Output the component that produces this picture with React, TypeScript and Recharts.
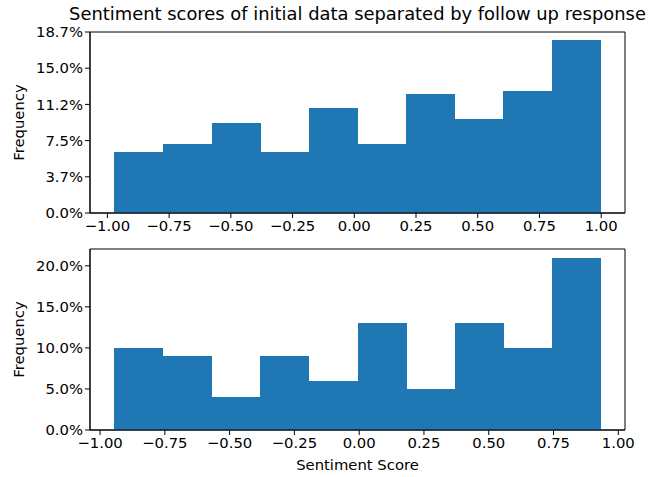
import React from 'react';
import { BarChart, Bar, XAxis, YAxis, ReferenceArea } from 'recharts';

const TITLE = 'Sentiment scores of initial data separated by follow up response';
const BLUE = '#1f77b4';
const FONT = '"DejaVu Sans", sans-serif';

// top panel: bin edges and % frequency per bin
const topEdges = [-0.972, -0.775, -0.578, -0.381, -0.184, 0.013, 0.210, 0.407, 0.604, 0.801, 0.998];
const topFreq = [6.3, 7.1, 9.3, 6.3, 10.85, 7.1, 12.3, 9.7, 12.6, 17.85];
const topYTicks = [0, 3.74, 7.48, 11.22, 14.96, 18.7];

// bottom panel
const botEdges = [-0.945, -0.757, -0.569, -0.382, -0.194, -0.006, 0.181, 0.369, 0.556, 0.744, 0.932];
const botFreq = [10, 9, 4, 9, 6, 13, 5, 13, 10, 21];
const botYTicks = [0, 5, 10, 15, 20];

const xTicks = [-1, -0.75, -0.5, -0.25, 0, 0.25, 0.5, 0.75, 1];

const fmtX = (v: number) => v.toFixed(2).replace('-', '\u2212');
const fmtY = (v: number) => v.toFixed(1) + '%';

const toBins = (edges: number[], freq: number[]) =>
  freq.map((f, i) => ({ x: (edges[i] + edges[i + 1]) / 2, v: f }));

// matplotlib-like 5% margins
const padDomain = (edges: number[]): [number, number] => {
  const lo = edges[0];
  const hi = edges[edges.length - 1];
  const m = (hi - lo) * 0.05;
  return [lo - m, hi + m];
};

const tickStyle = { fill: '#000', fontSize: 14.8, fontFamily: FONT };
const labelStyle = { fill: '#000', fontSize: 14.8, fontFamily: FONT, textAnchor: 'middle' as const };

interface PanelProps {
  edges: number[];
  freq: number[];
  yTicks: number[];
  yMax: number;
  height: number;
  margin: { top: number; right: number; bottom: number; left: number };
  xAxisHeight: number;
  xLabel?: string;
}

const Panel: React.FC<PanelProps> = ({ edges, freq, yTicks, yMax, height, margin, xAxisHeight, xLabel }) => {
  const data = toBins(edges, freq);
  const xDomain = padDomain(edges);
  return (
    <BarChart width={660} height={height} data={data} margin={margin} barCategoryGap={0} barGap={0}>
      <XAxis
        dataKey="x"
        type="number"
        domain={xDomain}
        allowDataOverflow
        ticks={xTicks}
        tickFormatter={fmtX}
        tick={tickStyle}
        tickSize={5}
        tickLine={{ stroke: '#000' }}
        axisLine={{ stroke: '#000' }}
        height={xAxisHeight}
        interval={0}
        label={xLabel ? { value: xLabel, position: 'insideBottom', offset: 5, style: labelStyle } : undefined}
      />
      <YAxis
        type="number"
        domain={[0, yMax]}
        allowDataOverflow
        ticks={yTicks}
        tickFormatter={fmtY}
        tick={tickStyle}
        tickSize={5}
        tickLine={{ stroke: '#000' }}
        axisLine={{ stroke: '#000' }}
        width={90}
        interval={0}
        label={{ value: 'Frequency', angle: -90, position: 'insideLeft', offset: 19, style: labelStyle }}
      />
      <Bar dataKey="v" fill={BLUE} style={{ shapeRendering: 'crispEdges' }} isAnimationActive={false} />
      <ReferenceArea
        x1={xDomain[0]}
        x2={xDomain[1]}
        y1={0}
        y2={yMax}
        fill="none"
        fillOpacity={0}
        stroke="#000"
        strokeWidth={1}
        ifOverflow="visible"
      />
    </BarChart>
  );
};

export default function App() {
  return (
    <div style={{ position: 'absolute', left: 0, top: 0, width: 660, height: 477, background: '#fff', fontFamily: FONT, overflow: 'hidden' }}>
      <div
        style={{
          position: 'absolute',
          left: 357.5,
          top: 3,
          transform: 'translateX(-50%)',
          fontSize: 17.9,
          lineHeight: '22px',
          color: '#000',
          whiteSpace: 'nowrap',
        }}
      >
        {TITLE}
      </div>
      <div style={{ position: 'absolute', left: 0, top: 0 }}>
        <Panel
          edges={topEdges}
          freq={topFreq}
          yTicks={topYTicks}
          yMax={18.7}
          height={240}
          margin={{ top: 32, right: 35, bottom: 2, left: 0 }}
          xAxisHeight={25}
        />
      </div>
      <div style={{ position: 'absolute', left: 0, top: 240 }}>
        <Panel
          edges={botEdges}
          freq={botFreq}
          yTicks={botYTicks}
          yMax={22.05}
          height={237}
          margin={{ top: 9, right: 35, bottom: 2, left: 0 }}
          xAxisHeight={45}
          xLabel="Sentiment Score"
        />
      </div>
    </div>
  );
}
